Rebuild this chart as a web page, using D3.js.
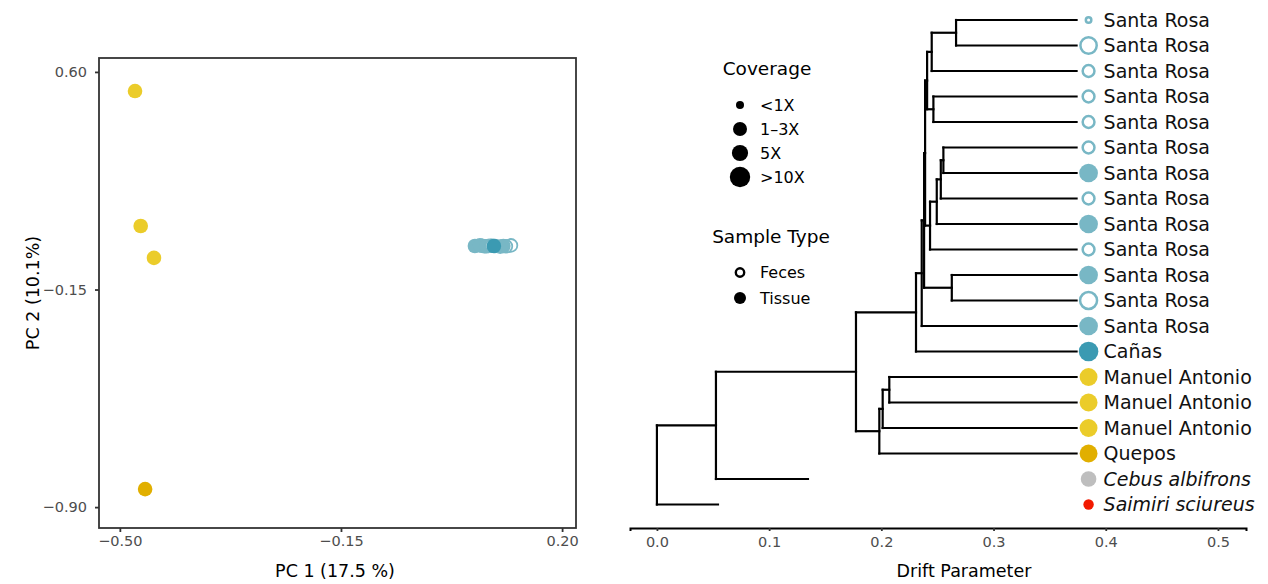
<!DOCTYPE html>
<html>
<head>
<meta charset="utf-8">
<style>
  body { margin: 0; background: #fff; }
  svg text { font-family: "DejaVu Sans", sans-serif; }
  .tick line { stroke: #333; }
  .lab { font-size: 19px; fill: #111; }
</style>
<script src="https://d3js.org/d3.v7.min.js"></script>
</head>
<body>
<svg width="1268" height="584"></svg>
<script>
// ---- PCA data ----
var pcaPop  = ["Santa Rosa","Santa Rosa","Santa Rosa","Santa Rosa","Santa Rosa","Santa Rosa","Santa Rosa",
               "Santa Rosa","Santa Rosa","Santa Rosa","Santa Rosa","Santa Rosa","Santa Rosa",
               "Cañas","Manuel Antonio","Manuel Antonio","Manuel Antonio","Quepos"];
var pcaType = ["Feces","Feces","Feces","Feces","Feces","Feces","Tissue","Feces","Tissue","Feces","Tissue","Feces","Tissue",
               "Tissue","Tissue","Tissue","Tissue","Tissue"];
var pc1 = [0.119, 0.111, 0.086, 0.094, 0.102, 0.073, 0.062, 0.077, 0.070, 0.083, 0.080, 0.089, 0.107,
           0.092, -0.476, -0.467, -0.446, -0.460];
var pc2 = [0.002, -0.001, 0.001, 0.000, -0.002, 0.001, 0.000, -0.001, 0.002, 0.000, -0.001, 0.001, 0.000,
           0.000, 0.534, 0.069, -0.041, -0.838];
var pc1Ticks = [-0.50, -0.15, 0.20];
var pc2Ticks = [0.60, -0.15, -0.90];

// ---- tree data ----
var tipLabel = ["Santa Rosa","Santa Rosa","Santa Rosa","Santa Rosa","Santa Rosa","Santa Rosa","Santa Rosa",
                "Santa Rosa","Santa Rosa","Santa Rosa","Santa Rosa","Santa Rosa","Santa Rosa","Cañas",
                "Manuel Antonio","Manuel Antonio","Manuel Antonio","Quepos","Cebus albifrons","Saimiri sciureus"];
var tipGroup = ["Santa Rosa","Santa Rosa","Santa Rosa","Santa Rosa","Santa Rosa","Santa Rosa","Santa Rosa",
                "Santa Rosa","Santa Rosa","Santa Rosa","Santa Rosa","Santa Rosa","Santa Rosa","Cañas",
                "Manuel Antonio","Manuel Antonio","Manuel Antonio","Quepos","Cebus","Saimiri"];
var tipType = ["Feces","Feces","Feces","Feces","Feces","Feces","Tissue","Feces","Tissue","Feces","Tissue","Feces","Tissue",
               "Tissue","Tissue","Tissue","Tissue","Tissue","Tissue","Tissue"];
var tipCoverage = [0.5, 8.1, 2.4, 2.4, 2.4, 2.4, 8, 2.4, 8, 2.4, 8, 8.9, 8, 9, 7, 7, 7, 7, 4.2, 1.1];
var tipParent = ["n1","n1","n2","n3","n3","n5","n5","n6","n7","n8","n9","n9","n12","n13",
                 "n14","n14","n15","n16","n18","root"];
var tipDrift = [0.374,0.374,0.374,0.374,0.374,0.374,0.374,0.374,0.374,0.374,0.374,0.374,0.374,0.374,
                0.374,0.374,0.374,0.374,0.1346,0.0544];

var nodeId     = ["root","n18","n17","n13","n12","n11","n10","n4","n2","n1","n3","n8","n7","n6","n5","n9","n16","n15","n14"];
var nodeParent = ["","root","n18","n17","n13","n12","n11","n10","n4","n2","n4","n10","n8","n7","n6","n11","n17","n16","n15"];
var nodeDrift  = [0, 0.0526, 0.1774, 0.2309, 0.2360, 0.2381, 0.2390, 0.2408, 0.2449, 0.2666, 0.2464,
                  0.2434, 0.2494, 0.2530, 0.2553, 0.2628, 0.1982, 0.2012, 0.2071];
var driftTicks = [0, 0.1, 0.2, 0.3, 0.4, 0.5];

var coverageLabels = ["<1X", "1\u20133X", "5X", ">10X"];
var coverageValues = [0.5, 2, 5, 10];

var color = d3.scaleOrdinal()
    .domain(["Cañas","Santa Rosa","Manuel Antonio","Quepos","Cebus","Saimiri"])
    .range(["#3B9AB2","#78B7C5","#EBCC2A","#E1AF00","#BEBEBE","#F21A00"]);

var size = d3.scaleLinear().domain([0.5, 2, 5, 10]).range([4, 7, 8.1, 10.2]).clamp(true);

var svg = d3.select("svg");
svg.append("rect").attr("width", 1268).attr("height", 584).attr("fill", "#fff");

function tickStyle(g) {
    g.selectAll(".tick text")
        .style("font-size", "14.5px")
        .attr("fill", "#4d4d4d");
    g.selectAll(".tick line").attr("stroke-width", 1.8);
}

// ================= PCA panel =================
var x = d3.scaleLinear().domain([-0.533, 0.222]).range([99, 576]);
var y = d3.scaleLinear().domain([-0.972, 0.648]).range([528, 58]);

svg.append("g")
    .attr("transform", "translate(0,528)")
    .call(d3.axisBottom(x).tickValues(pc1Ticks).tickSize(4).tickPadding(4).tickFormat(d3.format(".2f")))
    .call(function(g) { g.select(".domain").remove(); })
    .call(tickStyle);

svg.append("g")
    .attr("transform", "translate(99,0)")
    .call(d3.axisLeft(y).tickValues(pc2Ticks).tickSize(4).tickPadding(8).tickFormat(d3.format(".2f")))
    .call(function(g) { g.select(".domain").remove(); })
    .call(tickStyle);

var pts = pc1.map(function(d, i) { return {x: d, y: pc2[i], pop: pcaPop[i], type: pcaType[i]}; });

svg.append("g").selectAll("circle")
    .data(pts)
    .enter().append("circle")
    .attr("cx", function(d) { return x(d.x); })
    .attr("cy", function(d) { return y(d.y); })
    .attr("r", function(d) { return d.type == "Feces" ? 6.4 : 7.3; })
    .attr("fill", function(d) { return d.type == "Feces" ? "#fff" : color(d.pop); })
    .attr("stroke", function(d) { return d.type == "Feces" ? color(d.pop) : "none"; })
    .attr("stroke-width", 1.8);

svg.append("rect")
    .attr("x", 99).attr("y", 58).attr("width", 477).attr("height", 470)
    .attr("fill", "none").attr("stroke", "#333").attr("stroke-width", 1.8);

svg.append("text")
    .attr("x", 335).attr("y", 577)
    .attr("text-anchor", "middle")
    .style("font-size", "17.5px")
    .text("PC 1 (17.5 %)");

svg.append("text")
    .attr("transform", "translate(39,293) rotate(-90)")
    .attr("text-anchor", "middle")
    .style("font-size", "17.5px")
    .text("PC 2 (10.1%)");

// ================= tree panel =================
var xd = d3.scaleLinear().domain([-0.024, 0.525]).range([630, 1246]);
var yt = d3.scaleLinear().domain([0, 19]).range([20, 504.5]);

var rows = nodeId.map(function(id, i) { return {id: id, parent: nodeParent[i], drift: nodeDrift[i]}; })
    .concat(tipLabel.map(function(l, i) {
        return {id: "t" + i, parent: tipParent[i], drift: tipDrift[i], tip: i};
    }));

var root = d3.stratify()
    .id(function(d) { return d.id; })
    .parentId(function(d) { return d.parent || null; })(rows);

// y of a tip = its row, y of a node = middle of its children
root.eachAfter(function(n) {
    if (n.children) {
        var ys = n.children.map(function(c) { return c.yPos; });
        n.yPos = (d3.min(ys) + d3.max(ys)) / 2;
    } else {
        n.yPos = yt(n.data.tip);
    }
});

var branches = [];
root.each(function(n) {
    if (!n.children) return;
    var ys = n.children.map(function(c) { return c.yPos; });
    branches.push([[xd(n.data.drift), d3.min(ys)], [xd(n.data.drift), d3.max(ys)]]);
    n.children.forEach(function(c) {
        branches.push([[xd(n.data.drift), c.yPos], [xd(c.data.drift), c.yPos]]);
    });
});

svg.append("g").selectAll("path")
    .data(branches)
    .enter().append("path")
    .attr("d", d3.line())
    .attr("fill", "none")
    .attr("stroke", "#000")
    .attr("stroke-width", 2.2)
    .attr("stroke-linecap", "square");

var tipX = xd(d3.max(tipDrift)) + 12;

var tips = svg.append("g").selectAll("g")
    .data(tipLabel.map(function(l, i) {
        return {label: l, grp: tipGroup[i], type: tipType[i], cov: tipCoverage[i], i: i};
    }))
    .enter().append("g")
    .attr("transform", function(d) { return "translate(" + tipX + "," + yt(d.i) + ")"; });

tips.append("circle")
    .attr("r", function(d) { return d.type == "Feces" ? size(d.cov) - 1.25 : size(d.cov); })
    .attr("fill", function(d) { return d.type == "Feces" ? "#fff" : color(d.grp); })
    .attr("stroke", function(d) { return d.type == "Feces" ? color(d.grp) : "none"; })
    .attr("stroke-width", 2.5);

tips.append("text")
    .attr("class", "lab")
    .attr("x", 15)
    .attr("dy", "0.36em")
    .style("font-style", function(d) { return d.i >= 18 ? "italic" : "normal"; })
    .text(function(d) { return d.label; });

var ax = svg.append("g")
    .attr("transform", "translate(0,528)")
    .call(d3.axisBottom(xd).tickValues(driftTicks).tickSize(3).tickPadding(6).tickFormat(d3.format(".1f")))
    .call(tickStyle);
ax.select(".domain").attr("stroke", "#000").attr("stroke-width", 2);

svg.append("text")
    .attr("x", 964).attr("y", 577)
    .attr("text-anchor", "middle")
    .style("font-size", "17.5px")
    .text("Drift Parameter");

// ---- legends ----
svg.append("text")
    .attr("x", 767).attr("y", 75)
    .attr("text-anchor", "middle")
    .style("font-size", "18.5px")
    .text("Coverage");

var covY = d3.scalePoint().domain(coverageLabels).range([105, 177]);

var cov = svg.append("g").selectAll("g")
    .data(coverageLabels)
    .enter().append("g")
    .attr("transform", function(d) { return "translate(740," + covY(d) + ")"; });

cov.append("circle")
    .attr("r", function(d, i) { return size(coverageValues[i]); })
    .attr("fill", "#000");

cov.append("text")
    .attr("x", 20).attr("dy", "0.36em")
    .style("font-size", "16px")
    .text(function(d) { return d; });

svg.append("text")
    .attr("x", 771).attr("y", 243)
    .attr("text-anchor", "middle")
    .style("font-size", "18.5px")
    .text("Sample Type");

var types = ["Feces", "Tissue"];
var typeY = d3.scalePoint().domain(types).range([272.5, 298]);

var st = svg.append("g").selectAll("g")
    .data(types)
    .enter().append("g")
    .attr("transform", function(d) { return "translate(740," + typeY(d) + ")"; });

st.append("circle")
    .attr("r", function(d) { return d == "Feces" ? 4.2 : 6; })
    .attr("fill", function(d) { return d == "Feces" ? "#fff" : "#000"; })
    .attr("stroke", function(d) { return d == "Feces" ? "#000" : "none"; })
    .attr("stroke-width", 2.4);

st.append("text")
    .attr("x", 20).attr("dy", "0.36em")
    .style("font-size", "16px")
    .text(function(d) { return d; });
</script>
</body>
</html>
